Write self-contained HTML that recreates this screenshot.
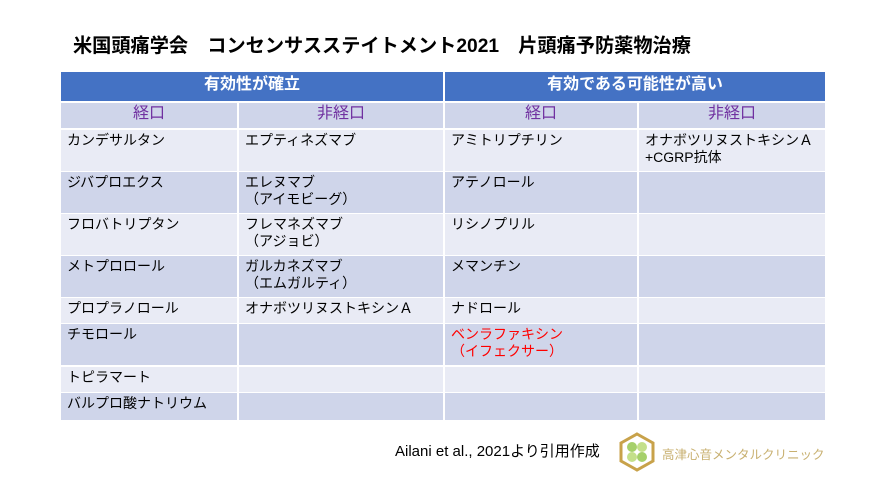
<!DOCTYPE html>
<html><head><meta charset="utf-8"><style>
body{margin:0;width:886px;height:498px;background:#fff;position:relative;overflow:hidden;font-family:"Liberation Sans","Noto Sans CJK JP",sans-serif;}
.c{position:absolute;box-sizing:border-box;font-size:14px;color:#000;padding:2px 0 0 6px;line-height:17px;}
.h{background:#4472c4;color:#fff;font-weight:bold;font-size:16px;text-align:center;padding:4px 0 0 0;}
.s{background:#cfd5ea;color:#7030a0;font-size:16px;text-align:center;padding:2px 0 0 0;}
.a{background:#e9ebf5}.b{background:#cfd5ea}
</style></head><body>
<div style="position:absolute;left:73px;top:30px;font-size:19.2px;font-weight:bold;">米国頭痛学会　コンセンサスステイトメント2021　片頭痛予防薬物治療</div>
<div class="c h" style="left:61px;top:72px;width:382px;height:29px">有効性が確立</div>
<div class="c h" style="left:445px;top:72px;width:380px;height:29px">有効である可能性が高い</div>
<div class="c s" style="left:61px;top:103px;width:176px;height:25px">経口</div>
<div class="c s" style="left:239px;top:103px;width:204px;height:25px">非経口</div>
<div class="c s" style="left:445px;top:103px;width:192px;height:25px">経口</div>
<div class="c s" style="left:639px;top:103px;width:186px;height:25px">非経口</div>
<div id="rows"></div>
<script>
var rows=[[130,41,"a",["カンデサルタン","エプティネズマブ","アミトリプチリン","オナボツリヌストキシンＡ<br>+CGRP抗体"]],
[172,41,"b",["ジバプロエクス","エレヌマブ<br>（アイモビーグ）","アテノロール",""]],
[214,41,"a",["フロバトリプタン","フレマネズマブ<br>（アジョビ）","リシノプリル",""]],
[256,41,"b",["メトプロロール","ガルカネズマブ<br>（エムガルティ）","メマンチン",""]],
[298,25,"a",["プロプラノロール","オナボツリヌストキシンＡ","ナドロール",""]],
[324,41,"b",["チモロール","","<span style='color:#f00'>ベンラファキシン<br>（イフェクサー）</span>",""]],
[367,25,"a",["トピラマート","","",""]],
[393,27,"b",["バルプロ酸ナトリウム","","",""]]];
var cols=[[61,176],[239,204],[445,192],[639,186]],h="";
rows.forEach(function(r){cols.forEach(function(c,i){h+='<div class="c '+r[2]+'" style="left:'+c[0]+'px;top:'+r[0]+'px;width:'+c[1]+'px;height:'+r[1]+'px">'+r[3][i]+'</div>';});});
document.getElementById("rows").innerHTML=h;
</script>
<div style="position:absolute;left:395px;top:440px;font-size:15px;">Ailani et al., 2021より引用作成</div>
<svg style="position:absolute;left:618px;top:432px" width="38" height="40"><polygon points="19,2 35,11 35,29 19,38 3,29 3,11" fill="none" stroke="#c8a24a" stroke-width="3"/><circle cx="14" cy="15" r="5" fill="#a6d06a"/><circle cx="24" cy="15" r="5" fill="#c4e08a"/><circle cx="14" cy="25" r="5" fill="#c4e08a"/><circle cx="24" cy="25" r="5" fill="#a6d06a"/></svg>
<div style="position:absolute;left:662px;top:444px;font-size:12.5px;color:#c8b070;">高津心音メンタルクリニック</div>
</body></html>
